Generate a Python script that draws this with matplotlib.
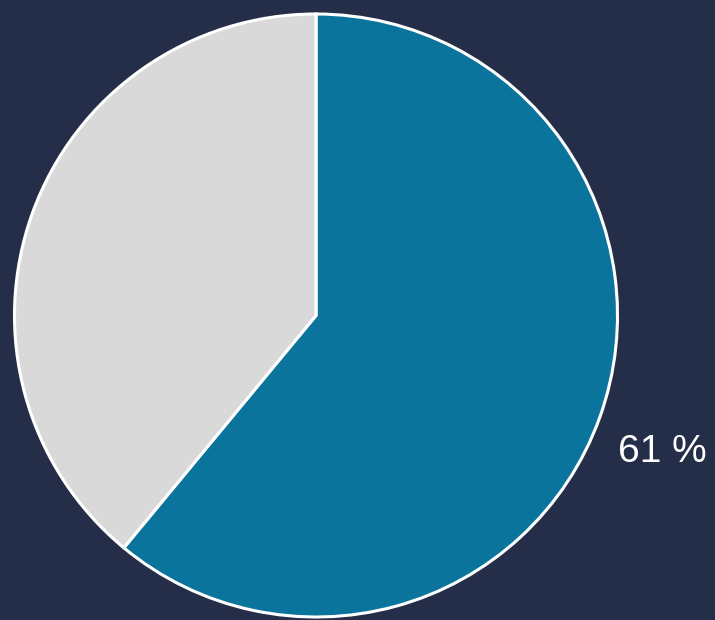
import matplotlib
matplotlib.use("Agg")
import matplotlib.pyplot as plt
import numpy as np

categories = ["Yes", "No"]
values = [61, 39]
colors = ["#0b749c", "#d9d9d9"]
label_text = "61 %"

W, H = 715, 620
fig = plt.figure(figsize=(W / 100, H / 100), dpi=100)
fig.patch.set_facecolor("#252e48")
ax = fig.add_axes([0, 0, 1, 1])
ax.set_facecolor("#252e48")

cx, cy, r = 316, H - 315.5, 301.5
wedges, _ = ax.pie(values, colors=colors, startangle=90, counterclock=False,
                   center=(cx, cy), radius=r, frame=True,
                   wedgeprops=dict(edgecolor="white", linewidth=2.2))
ax.set_xlim(0, W)
ax.set_ylim(0, H)
ax.set_aspect("equal")
ax.axis("off")

# label for first wedge
w = wedges[0]
mid = np.deg2rad((w.theta1 + w.theta2) / 2)
d = r * 1.065
ax.text(cx + d * np.cos(mid), cy + d * np.sin(mid) - 37.5, label_text,
        color="white", fontsize=28, family="Liberation Sans",
        ha="left", va="baseline")

fig.savefig("out.png", dpi=100, facecolor=fig.get_facecolor())
